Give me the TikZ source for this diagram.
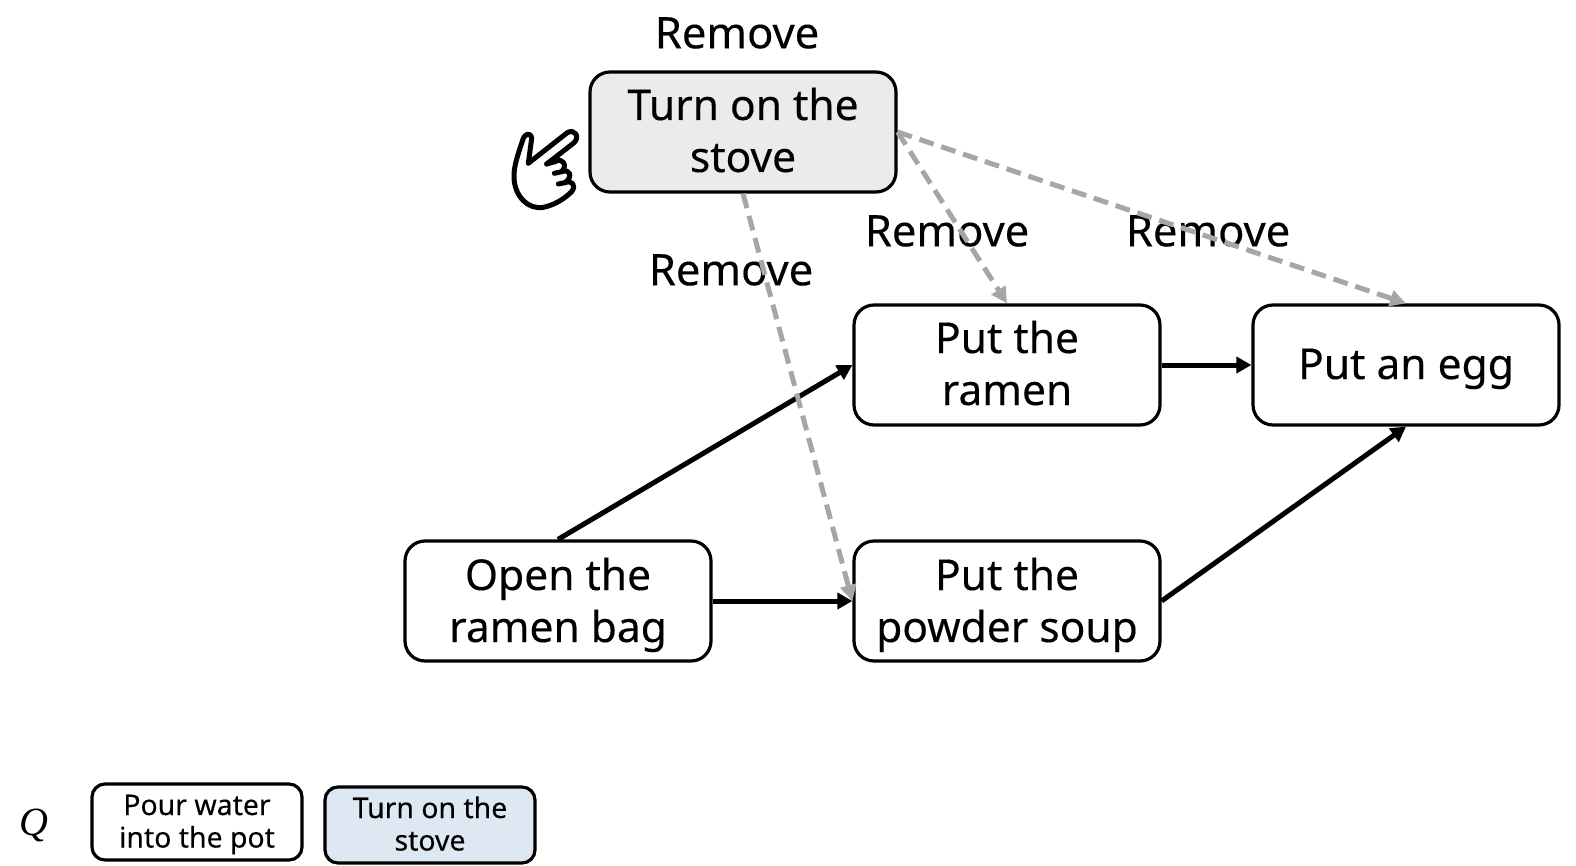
\documentclass[tikz,border=0pt]{standalone}
\usepackage{fontspec}
\setmainfont{Noto Sans}[FakeBold=0.25]
\newfontfamily\qfont{Liberation Serif}
\usetikzlibrary{arrows.meta}
\newcommand{\liftbox}[2]{\raisebox{#1}[0pt][0pt]{\begin{tabular}[t]{@{}c@{}}#2\end{tabular}}}
\tikzset{
 stepbox/.style={draw=black,line width=3.2pt,rounded corners=20pt,minimum width=306pt,minimum height=120pt,font=\fontsize{42.5}{52}\selectfont,inner sep=0pt,anchor=center},
 smallbox/.style={draw=black,line width=3.2pt,rounded corners=13pt,minimum width=210pt,minimum height=76pt,font=\fontsize{28.4}{32.5}\selectfont,inner sep=0pt},
 lab/.style={font=\fontsize{43.5}{50}\selectfont,inner sep=0pt},
 solidarrow/.style={draw=black,line width=5pt,-{Triangle[length=15pt,width=16pt]}},
 grayarrow/.style={draw=black!35,line width=5pt,dash pattern=on 15pt off 8pt,-{Triangle[length=16pt,width=16pt]}},
}
\begin{document}
\begin{tikzpicture}[x=1pt,y=-1pt]
\useasboundingbox (0,0) rectangle (1576,866);
\node[stepbox,fill=black!8] (turn) at (743,132) {\liftbox{12pt}{Turn on the\\stove}};
\node[stepbox] (ramen) at (1007,365) {\liftbox{12pt}{Put the\\ramen}};
\node[stepbox] (egg) at (1406,365) {\liftbox{-14pt}{Put an egg}};
\node[stepbox] (soup) at (1007,601) {\liftbox{11pt}{Put the\\powder soup}};
\node[stepbox] (open) at (558,601) {\liftbox{11pt}{Open the\\ramen bag}};
\node[smallbox] (pour) at (197,822) {\liftbox{7pt}{Pour water\\into the pot}};
\node[smallbox,fill={rgb,255:red,222;green,232;blue,243}] (stove) at (430,825) {\liftbox{7pt}{Turn on the\\stove}};
\node[font=\fontsize{40}{48}\selectfont\qfont\itshape,inner sep=0pt] (q) at (34,825) {Q};
\node[lab] (l1) at (737,33) {Remove};
\node[lab] (l2) at (947,231) {Remove};
\node[lab] (l3) at (1208,231) {Remove};
\node[lab] (l4) at (731,270) {Remove};
\draw[solidarrow] (open.north) -- (ramen.west);
\draw[solidarrow] (open.east) -- (soup.west);
\draw[solidarrow] (ramen.east) -- (egg.west);
\draw[solidarrow] (soup.east) -- (egg.south);
\draw[grayarrow] (turn.east) -- (egg.north);
\draw[grayarrow] (turn.east) -- (ramen.north);
\draw[grayarrow] (turn.south) -- (soup.west);
\begin{scope}[shift={(490,60)},x=0.3333pt,y=-0.3333pt]
\draw[line width=5pt,line join=round,line cap=round,fill=white]
 (115,310) -- (125,235) .. controls (122,215) and (105,222) .. (100,235)
 .. controls (85,280) and (70,320) .. (72,355)
 .. controls (75,410) and (115,450) .. (160,442)
 .. controls (195,435) and (225,415) .. (245,395)
 .. controls (260,375) and (245,360) .. (225,368)
 .. controls (250,350) and (240,325) .. (215,335)
 .. controls (235,315) and (215,290) .. (195,305)
 (170,312) -- (250,250) .. controls (272,232) and (255,205) .. (232,218) -- (115,310);
\draw[line width=5pt,line cap=round] (170,312) -- (195,305) (193,340) -- (215,335) (205,372) -- (225,368);
\end{scope}
\end{tikzpicture}
\end{document}
